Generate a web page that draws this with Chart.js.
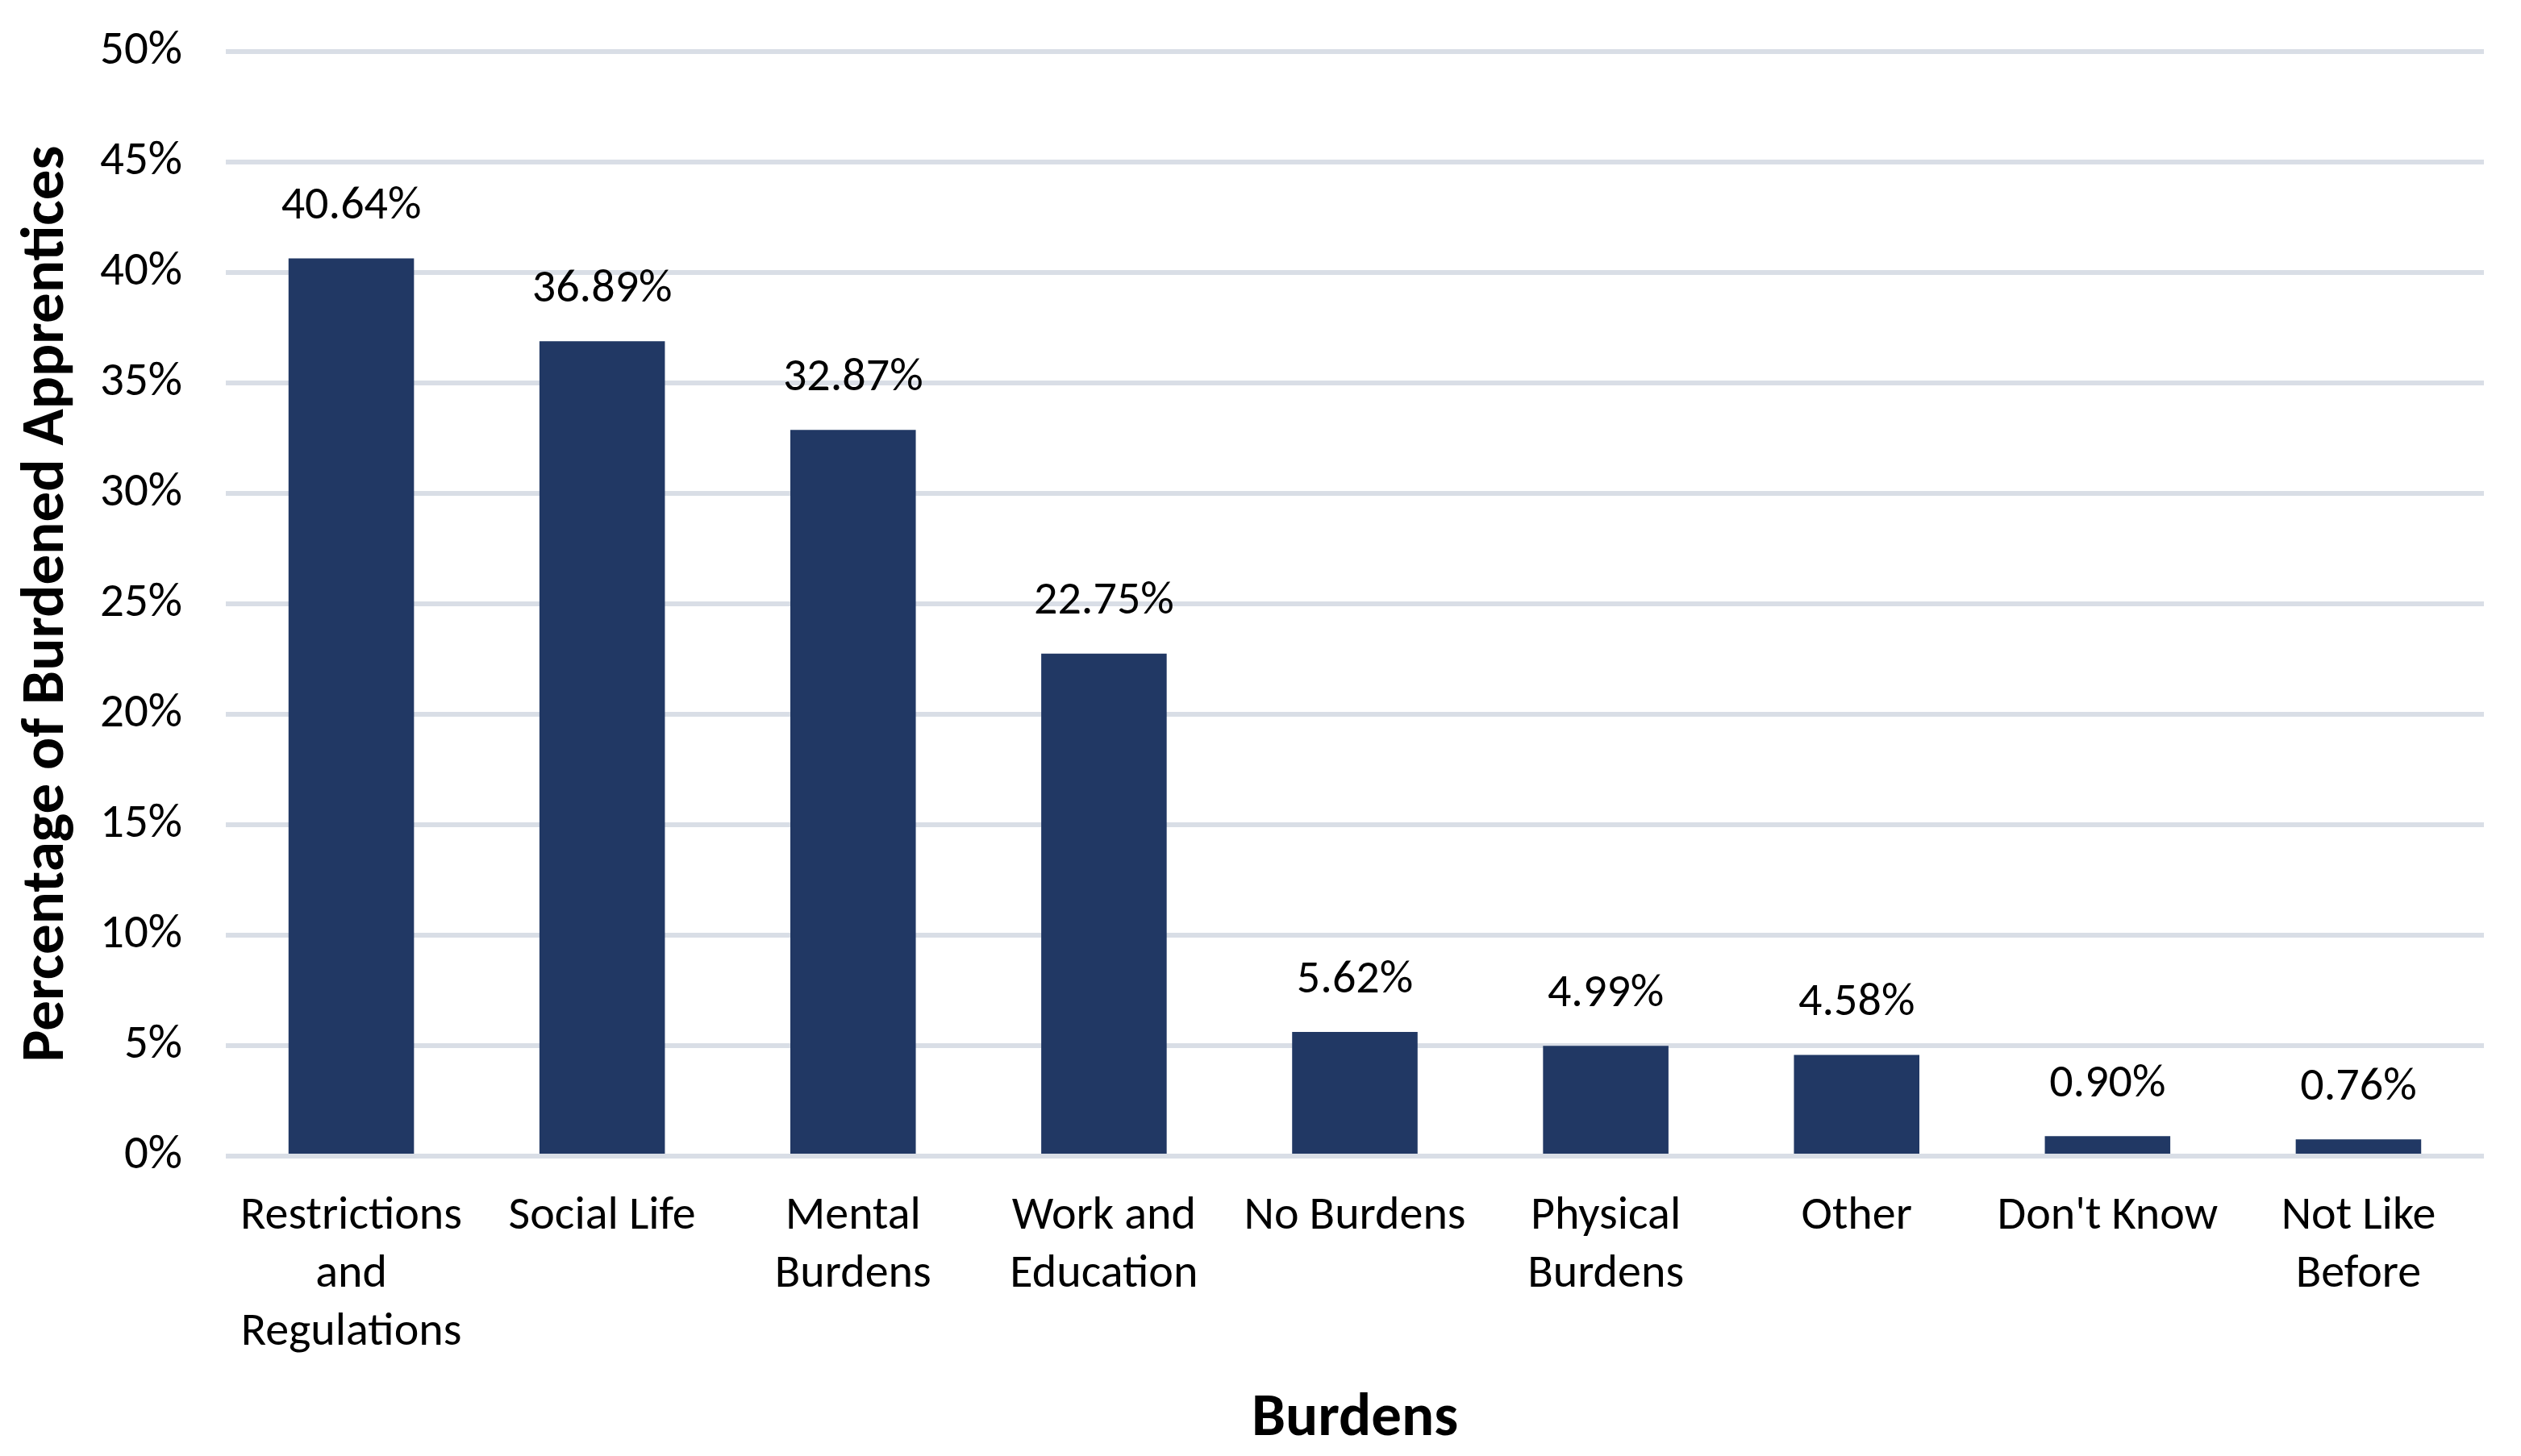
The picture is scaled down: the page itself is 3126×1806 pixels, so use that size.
<!DOCTYPE html>
<html>
<head>
<meta charset="utf-8">
<script src="https://cdn.jsdelivr.net/npm/chart.js@4/dist/chart.umd.min.js"></script>
<style>
  html, body { margin: 0; padding: 0; background: #ffffff; }
  #wrap { width: 3126px; height: 1806px; }
</style>
</head>
<body>
<div id="wrap"><canvas id="c" width="3126" height="1806"></canvas></div>
<script>
const categories = [
  ["Restrictions", "and", "Regulations"],
  "Social Life",
  ["Mental", "Burdens"],
  ["Work and", "Education"],
  "No Burdens",
  ["Physical", "Burdens"],
  "Other",
  "Don't Know",
  ["Not Like", "Before"]
];
const values = [40.64, 36.89, 32.87, 22.75, 5.62, 4.99, 4.58, 0.90, 0.76];
const yTicks = [0, 5, 10, 15, 20, 25, 30, 35, 40, 45, 50];
const xTitle = "Burdens";
const yTitle = "Percentage of Burdened Apprentices";

const FONT = "Carlito, Calibri, Lato, 'Open Sans', sans-serif";
const barColor = "#213864";
const gridColor = "#D9DEE6";

const dataLabels = {
  id: "dataLabels",
  afterDatasetsDraw(chart) {
    const ctx = chart.ctx;
    const meta = chart.getDatasetMeta(0);
    ctx.save();
    ctx.font = "58px " + FONT;
    ctx.fillStyle = "#000000";
    ctx.textAlign = "center";
    ctx.textBaseline = "middle";
    meta.data.forEach((bar, i) => {
      ctx.fillText(values[i].toFixed(2) + "%", bar.x, bar.y - 64);
    });
    ctx.restore();
  }
};

new Chart(document.getElementById("c"), {
  type: "bar",
  data: {
    labels: categories,
    datasets: [{
      data: values,
      backgroundColor: barColor,
      borderWidth: 0,
      categoryPercentage: 0.5,
      barPercentage: 1.0
    }]
  },
  options: {
    responsive: false,
    animation: false,
    devicePixelRatio: 1,
    layout: { padding: { left: 0, right: 46, top: 64, bottom: 0 } },
    plugins: {
      legend: { display: false },
      tooltip: { enabled: false }
    },
    scales: {
      x: {
        grid: { display: false, drawTicks: false },
        border: { display: false },
        ticks: {
          color: "#000000",
          font: { family: FONT, size: 58, lineHeight: 1.24 },
          padding: 40,
          maxRotation: 0,
          autoSkip: false
        },
        title: {
          display: true,
          text: xTitle,
          color: "#000000",
          font: { family: FONT, size: 75, weight: "bold", lineHeight: 1.2 },
          padding: { top: 2, bottom: 0 }
        },
        afterFit(scale) { scale.height = 372; }
      },
      y: {
        min: 0,
        max: 50,
        afterBuildTicks(scale) { scale.ticks = yTicks.map(v => ({ value: v })); },
        grid: { color: gridColor, lineWidth: 6, drawTicks: true, tickLength: 54, tickColor: "rgba(0,0,0,0)" },
        border: { display: false },
        ticks: {
          color: "#000000",
          font: { family: FONT, size: 59 },
          padding: 0,
          callback: v => v + "%"
        },
        title: {
          display: true,
          text: yTitle,
          color: "#000000",
          font: { family: FONT, size: 75, weight: "bold", lineHeight: 1.2 },
          padding: { top: 14, bottom: 0 }
        },
        afterFit(scale) { scale.width = 280; }
      }
    }
  },
  plugins: [dataLabels]
});
</script>
</body>
</html>
